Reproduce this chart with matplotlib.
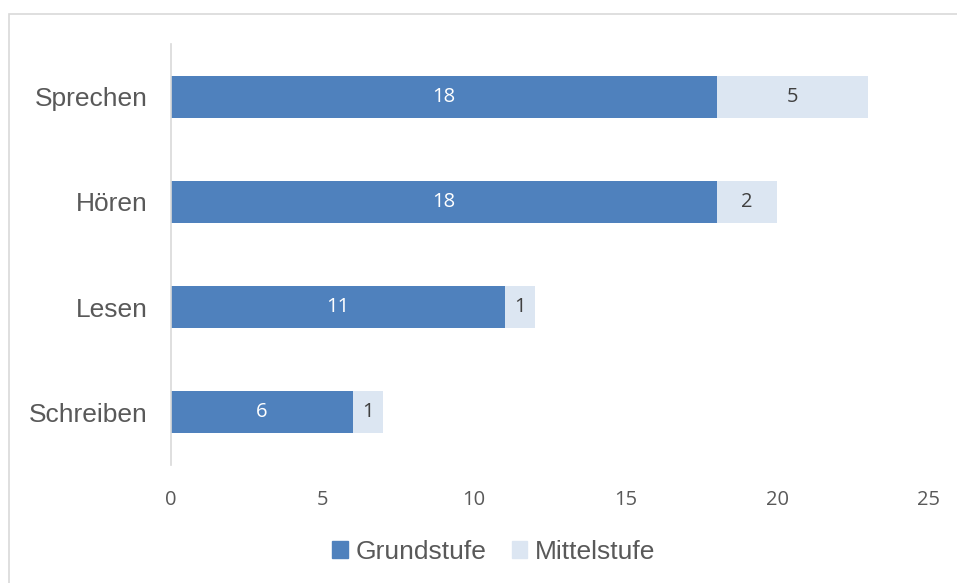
import matplotlib.pyplot as plt
from matplotlib.patches import Rectangle, Patch

categories = ['Sprechen', 'Hören', 'Lesen', 'Schreiben']
grundstufe = [18, 18, 11, 6]
mittelstufe = [5, 2, 1, 1]
xticks = [0, 5, 10, 15, 20, 25]

dark = '#4F81BD'
light = '#DCE6F2'
grey = '#595959'

fig = plt.figure(figsize=(9.57, 5.83), dpi=100)
fig.patches.append(Rectangle((9 / 957, -0.1), 1.2, 1 - 14 / 583 + 0.1, transform=fig.transFigure,
                             fill=False, edgecolor='#D9D9D9', linewidth=1.2))
ax = fig.add_axes([171 / 957, 1 - 465 / 583, 758 / 957, 421 / 583])

y = range(len(categories))
b1 = ax.barh(y, grundstufe, height=0.4, color=dark)
b2 = ax.barh(y, mittelstufe, left=grundstufe, height=0.4, color=light)
ax.bar_label(b1, label_type='center', color='white', fontsize=14.5, family='Open Sans')
ax.bar_label(b2, label_type='center', color='#404040', fontsize=14.5, family='Open Sans')

ax.set_xlim(0, 25)
ax.set_ylim(3.5, -0.5)
ax.set_yticks(list(y))
ax.set_yticklabels(categories, fontsize=19, family='Liberation Sans', color=grey)
ax.set_xticks(xticks)
ax.set_xticklabels([str(t) for t in xticks], fontsize=14.5, family='Open Sans', color=grey)
ax.tick_params(length=0)
ax.tick_params(axis='y', pad=17)
ax.tick_params(axis='x', pad=18)
for s in ['top', 'right', 'bottom']:
    ax.spines[s].set_visible(False)
ax.spines['left'].set_color('#D9D9D9')
ax.spines['left'].set_linewidth(1.2)

handles = [Patch(color=dark, label='Grundstufe'), Patch(color=light, label='Mittelstufe')]
fig.legend(handles=handles, loc='center', bbox_to_anchor=(0.516, 1 - 552 / 583), ncol=2, frameon=False,
           prop={'family': 'Liberation Sans', 'size': 19}, labelcolor=grey, handlelength=0.6,
           handleheight=0.6, handletextpad=0.3, columnspacing=0.95)

fig.savefig('out.png', dpi=100)
